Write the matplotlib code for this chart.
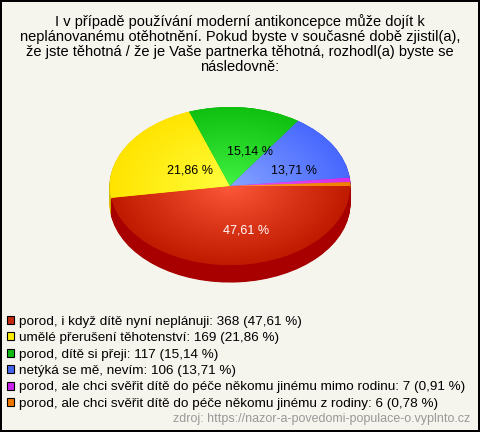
import numpy as np
import matplotlib
matplotlib.use('Agg')
import matplotlib.pyplot as plt
from matplotlib.patches import Rectangle
from matplotlib.colors import to_rgb

plt.rcParams['font.family'] = ['Liberation Sans', 'DejaVu Sans']

title = ('I v případě používání moderní antikoncepce může dojít k\n'
         'neplánovanému otěhotnění. Pokud byste v současné době zjistil(a),\n'
         'že jste těhotná / že je Vaše partnerka těhotná, rozhodl(a) byste se\n'
         'následovně:')
categories = ['porod, i když dítě nyní neplánuji',
              'umělé přerušení těhotenství',
              'porod, dítě si přeji',
              'netýká se mě, nevím',
              'porod, ale chci svěřit dítě do péče někomu jinému mimo rodinu',
              'porod, ale chci svěřit dítě do péče někomu jinému z rodiny']
counts = [368, 169, 117, 106, 7, 6]
percents = [47.61, 21.86, 15.14, 13.71, 0.91, 0.78]

# barvy: okraj, střed (gradient), bok
edge_cols = ['#c01a00', '#ffe400', '#10c010', '#4868ff', '#d82ae8', '#f08000']
center_cols = ['#ff5a3a', '#ffff40', '#44f444', '#88a6ff', '#e860f5', '#ffa030']
side_cols = ['#a80000', '#d8c000', '#0a9a0a', '#2244cc', '#a010b0', '#c06000']
legend_cols = ['#c42a10', '#ffee00', '#11bb11', '#4466ee', '#cc22ee', '#ee7700']

BG = '#f5f4ed'
W, H = 480, 432
fig = plt.figure(figsize=(W / 100, H / 100), dpi=100, facecolor=BG,
                 edgecolor='black', linewidth=1.5)

fig.text(0.5, 1 - 14 / H, title, ha='center', va='top', fontsize=10.5,
         linespacing=1.1)

# osa pro koláč (pixely: x 110..350, y 107..282)
depth = 0.215
ax = fig.add_axes([110 / W, (H - 282) / H, 240 / W, 175 / H])
ax.set_facecolor('none')

nlayers = 24
for k in range(nlayers):
    ax.pie(counts, colors=side_cols, startangle=0, counterclock=False,
           center=(0, -depth * (1 - k / nlayers)),
           wedgeprops=dict(linewidth=0.8))
    for w in ax.patches[-len(counts):]:
        w.set_edgecolor(w.get_facecolor())

fmt = lambda p: (f'{p:.2f}'.replace('.', ',') + ' %') if p > 5 else ''
wedges, texts, autotexts = ax.pie(counts, colors=edge_cols, startangle=0,
                                  counterclock=False, autopct=fmt,
                                  pctdistance=0.5,
                                  wedgeprops=dict(linewidth=0))

# radiální gradient v každé výseči
yy, xx = np.mgrid[-1:1:200j, -1:1:200j]
rr = np.clip(np.hypot(xx, yy), 0, 1)
for w, c0, c1 in zip(wedges, center_cols, edge_cols):
    a, b = np.array(to_rgb(c0)), np.array(to_rgb(c1))
    img = a + (b - a) * rr[..., None] ** 0.9
    im = ax.imshow(img, extent=(-1, 1, -1, 1), origin='lower',
                   interpolation='bilinear', zorder=1.5)
    im.set_clip_path(w)

for i, t in enumerate(autotexts):
    x, y = t.get_position()
    t.set_position((x + 0.1, y - 0.06))
    t.set_fontsize(9)
    t.set_color('white' if i == 0 else 'black')
    t.set_zorder(5)

ax.set_aspect('auto')
ax.set_xlim(-1, 1)
ax.set_ylim(-1 - depth, 1)
ax.axis('off')

# legenda
handles = [Rectangle((0, 0), 1, 1, facecolor=c, edgecolor='black', linewidth=0.8)
           for c in legend_cols]
labels = [f'{c}: {n} ({p:.2f} %)'.replace('.', ',') for c, n, p in
          zip(categories, counts, percents)]
fig.legend(handles, labels, loc='upper left',
           bbox_to_anchor=(4 / W, 1 - 313 / H), frameon=False, fontsize=9.7,
           handlelength=0.55, handleheight=0.55, handletextpad=0.35,
           labelspacing=0.33, borderaxespad=0, borderpad=0.2)

fig.text(1 - 10 / W, 1 - 419 / H,
         'zdroj: https://nazor-a-povedomi-populace-o.vyplnto.cz',
         ha='right', va='center', fontsize=9, color='#999999')

fig.savefig('out.png', dpi=100, facecolor=BG)
